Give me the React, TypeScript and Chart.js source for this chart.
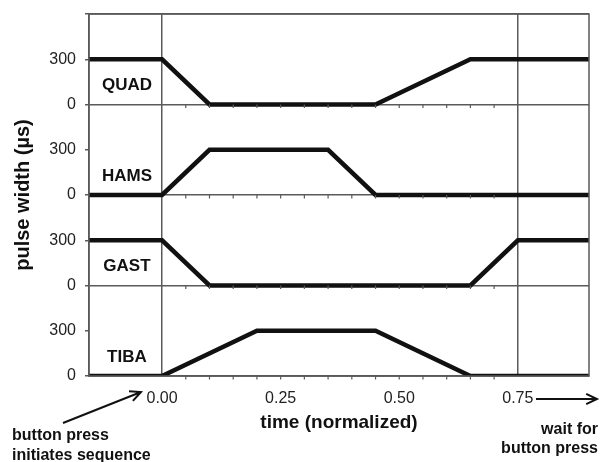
import React, { useEffect, useRef } from "react";
import { Chart, registerables } from "chart.js";

Chart.register(...registerables);

// ---- data ----
const X_MIN = -0.154;
const X_MAX = 0.9;

const muscleNames = ["QUAD", "HAMS", "GAST", "TIBA"];
const quadTimes = [X_MIN, 0, 0.1, 0.45, 0.65, X_MAX];
const quadWidths = [300, 300, 0, 0, 300, 300];
const hamsTimes = [X_MIN, 0, 0.1, 0.35, 0.45, X_MAX];
const hamsWidths = [0, 0, 300, 300, 0, 0];
const gastTimes = [X_MIN, 0, 0.1, 0.65, 0.75, X_MAX];
const gastWidths = [300, 300, 0, 0, 300, 300];
const tibaTimes = [X_MIN, 0, 0.2, 0.45, 0.65, X_MAX];
const tibaWidths = [0, 0, 300, 300, 0, 0];

const panelBaseValues = [1800, 1200, 600, 0]; // QUAD, HAMS, GAST, TIBA stacked
const PANEL_SPAN = 600;
const yPanelTickValues = [0, 300];
const yPanelTickLabels = ["0", "300"];

const xTickValues = [0, 0.25, 0.5, 0.75];
const xTickLabels = ["0.00", "0.25", "0.50", "0.75"];
const xMinorTicks = [0.05, 0.1, 0.15, 0.2, 0.25, 0.3, 0.35, 0.4, 0.45, 0.5, 0.55, 0.6, 0.65, 0.7];
const xFullLines = [0, 0.75];

const GRID = "#5a5a5a";
const INK = "#111";
const FONT = "'Liberation Sans', Arial, sans-serif";

const seriesTimes = [quadTimes, hamsTimes, gastTimes, tibaTimes];
const seriesWidths = [quadWidths, hamsWidths, gastWidths, tibaWidths];

function arrow(ctx: CanvasRenderingContext2D, x1: number, y1: number, x2: number, y2: number, head: number) {
  const a = Math.atan2(y2 - y1, x2 - x1);
  ctx.beginPath();
  ctx.moveTo(x1, y1);
  ctx.lineTo(x2, y2);
  ctx.moveTo(x2 - head * Math.cos(a - 0.45), y2 - head * Math.sin(a - 0.45));
  ctx.lineTo(x2, y2);
  ctx.lineTo(x2 - head * Math.cos(a + 0.45), y2 - head * Math.sin(a + 0.45));
  ctx.stroke();
}

export default function App() {
  const ref = useRef<HTMLCanvasElement>(null);

  useEffect(() => {
    if (!ref.current) return;

    const yTicks: number[] = [];
    [...panelBaseValues].reverse().forEach((b) => yPanelTickValues.forEach((v) => yTicks.push(b + v)));
    yTicks.push(PANEL_SPAN * panelBaseValues.length);

    const datasets = muscleNames.map((name, i) => ({
      label: name,
      data: seriesTimes[i].map((t, k) => ({ x: t, y: panelBaseValues[i] + seriesWidths[i][k] })),
      borderColor: INK,
      borderWidth: 4.5,
      pointRadius: 0,
      tension: 0,
      fill: false,
      borderJoinStyle: "miter" as const,
    }));

    const noPad = (s: any) => {
      s.paddingTop = 0;
      s.paddingBottom = 0;
      s.paddingLeft = 0;
      s.paddingRight = 0;
    };

    const decor = {
      id: "decor",
      afterDraw(chart: any) {
        const ctx = chart.ctx as CanvasRenderingContext2D;
        const { left, right, top, bottom } = chart.chartArea;
        const xs = chart.scales.x;
        const ys = chart.scales.y;
        ctx.save();
        // frame
        ctx.strokeStyle = GRID;
        ctx.lineWidth = 1.5;
        ctx.strokeRect(left, top, right - left, bottom - top);
        // minor ticks on each zero line
        ctx.lineWidth = 1.2;
        panelBaseValues.forEach((b) => {
          const y = ys.getPixelForValue(b);
          xMinorTicks.forEach((t) => {
            const x = xs.getPixelForValue(t);
            ctx.beginPath();
            ctx.moveTo(x, y);
            ctx.lineTo(x, y + 3.5);
            ctx.stroke();
          });
        });
        // panel labels
        ctx.fillStyle = INK;
        ctx.font = `bold 17px ${FONT}`;
        ctx.textAlign = "center";
        ctx.textBaseline = "middle";
        muscleNames.forEach((n, i) => {
          ctx.fillText(n, xs.getPixelForValue(-0.074), ys.getPixelForValue(panelBaseValues[i] + 125));
        });
        // axis titles
        ctx.font = `bold 19px ${FONT}`;
        ctx.fillText("time (normalized)", (left + right) / 2, 423);
        ctx.save();
        ctx.translate(23, (top + bottom) / 2);
        ctx.rotate(-Math.PI / 2);
        ctx.font = `bold 20px ${FONT}`;
        ctx.fillText("pulse width (\u00b5s)", 0, 0);
        ctx.restore();
        // annotations
        ctx.font = `bold 16px ${FONT}`;
        ctx.textAlign = "left";
        ctx.fillText("button press", 12, 436);
        ctx.fillText("initiates sequence", 12, 456);
        ctx.textAlign = "right";
        ctx.fillText("wait for", 598, 430);
        ctx.fillText("button press", 598, 449);
        ctx.strokeStyle = INK;
        ctx.lineWidth = 2;
        arrow(ctx, 63, 423, 141, 392, 12);
        arrow(ctx, 536, 399, 597, 399, 12);
        ctx.restore();
      },
    };

    const chart = new Chart(ref.current, {
      type: "line",
      data: { datasets },
      options: {
        animation: false,
        responsive: false,
        layout: { padding: { top: 14, right: 11, left: 0, bottom: 0 } },
        plugins: { legend: { display: false }, tooltip: { enabled: false } },
        scales: {
          x: {
            type: "linear",
            min: X_MIN,
            max: X_MAX,
            afterBuildTicks: (s: any) => {
              s.ticks = xTickValues.map((v) => ({ value: v }));
            },
            afterFit: (s: any) => {
              s.height = 86;
              noPad(s);
            },
            ticks: {
              autoSkip: false,
              maxRotation: 0,
              padding: 13,
              color: "#222",
              font: { family: FONT, size: 16 },
              callback: (_v: any, i: number) => xTickLabels[i],
            },
            grid: {
              drawTicks: false,
              lineWidth: 1.5,
              color: (c: any) => (c.tick && xFullLines.includes(c.tick.value) ? GRID : "rgba(0,0,0,0)"),
            },
            border: { color: GRID, width: 1.5 },
          },
          y: {
            type: "linear",
            min: 0,
            max: PANEL_SPAN * panelBaseValues.length,
            afterBuildTicks: (s: any) => {
              s.ticks = yTicks.map((v) => ({ value: v }));
            },
            afterFit: (s: any) => {
              s.width = 89;
              noPad(s);
            },
            ticks: {
              autoSkip: false,
              padding: 9,
              color: "#222",
              font: { family: FONT, size: 16 },
              callback: (v: any) => {
                const n = Number(v);
                if (n >= PANEL_SPAN * panelBaseValues.length) return "";
                const idx = yPanelTickValues.indexOf(n % PANEL_SPAN);
                return idx >= 0 ? yPanelTickLabels[idx] : "";
              },
            },
            grid: {
              lineWidth: 1.5,
              tickLength: 4,
              tickColor: GRID,
              color: (c: any) => (c.tick && c.tick.value % PANEL_SPAN === 0 ? GRID : "rgba(0,0,0,0)"),
            },
            border: { color: GRID, width: 1.5 },
          },
        },
      },
      plugins: [decor],
    });
    return () => chart.destroy();
  }, []);

  return (
    <div style={{ position: "absolute", left: 0, top: 0, width: 600, height: 462, background: "#fff" }}>
      <canvas ref={ref} width={600} height={462} />
    </div>
  );
}
